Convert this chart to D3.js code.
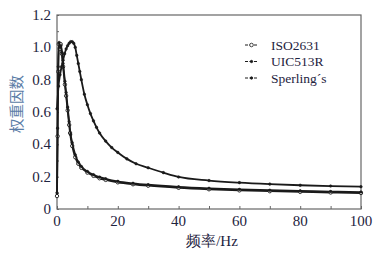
<!DOCTYPE html>
<html>
<head>
<meta charset="utf-8">
<script src="https://cdn.jsdelivr.net/npm/d3@7"></script>
<style>
  body { margin: 0; background: #fff; }
  svg text { font-family: "Liberation Serif", "DejaVu Serif", serif; }
</style>
</head>
<body>
<div id="chart-area"></div>
<script>
// data
var isoFreq = [0, 0.2, 0.4, 0.6, 0.9, 1.2, 1.6, 2, 2.6, 3, 3.5, 4, 4.3, 5, 6, 7, 8, 10, 12, 14, 16, 20, 25, 30, 40, 50, 60, 70, 80, 90, 100];
var isoVals = [0.08, 0.45, 0.85, 1.02, 0.99, 1.02, 0.96, 0.88, 0.77, 0.70, 0.61, 0.52, 0.47, 0.39, 0.32, 0.28, 0.255, 0.225, 0.205, 0.19, 0.18, 0.165, 0.153, 0.144, 0.131, 0.122, 0.115, 0.11, 0.106, 0.102, 0.099];

var uicFreq = [0, 0.2, 0.4, 0.7, 1.0, 1.3, 1.6, 2, 2.6, 3, 3.5, 4, 4.5, 5, 6, 7, 8, 10, 12, 14, 16, 20, 25, 30, 40, 50, 60, 70, 80, 90, 100];
var uicVals = [0.1, 0.5, 0.88, 1.03, 1.0, 1.01, 0.97, 0.9, 0.79, 0.72, 0.63, 0.54, 0.46, 0.41, 0.335, 0.29, 0.263, 0.232, 0.212, 0.197, 0.187, 0.171, 0.159, 0.15, 0.137, 0.128, 0.121, 0.116, 0.112, 0.108, 0.105];

var sperFreq = [0, 0.5, 1, 1.5, 2, 2.5, 3, 3.5, 4, 4.5, 5, 5.5, 6, 6.5, 7, 7.5, 8, 9, 10, 11, 12, 13, 14, 16, 18, 20, 23, 26, 30, 35, 40, 50, 60, 70, 80, 90, 100];
var sperVals = [0.62, 0.76, 0.83, 0.88, 0.92, 0.96, 0.99, 1.01, 1.025, 1.035, 1.035, 1.025, 1.0, 0.95, 0.9, 0.85, 0.8, 0.71, 0.645, 0.59, 0.545, 0.505, 0.47, 0.42, 0.38, 0.35, 0.31, 0.28, 0.255, 0.225, 0.198, 0.176, 0.163, 0.154, 0.147, 0.142, 0.138];

var xTicks = [0, 20, 40, 60, 80, 100];
var yTicks = [0, 0.2, 0.4, 0.6, 0.8, 1.0, 1.2];
var yTickLabels = ["0", "0.2", "0.4", "0.6", "0.8", "1.0", "1.2"];
var seriesNames = ["ISO2631", "UIC513R", "Sperling\u00b4s"];

var margin = { left: 57, right: 20, top: 15, bottom: 48 };
var width = 381 - margin.left - margin.right,
    height = 257 - margin.top - margin.bottom;

var svg = d3.select("#chart-area")
    .append("svg")
        .attr("width", 381)
        .attr("height", 257);

var g = svg.append("g")
    .attr("transform", "translate(" + margin.left + ", " + margin.top + ")");

var x = d3.scaleLinear().domain([0, 100]).range([0, width]);
var y = d3.scaleLinear().domain([0, 1.2]).range([height, 0]);

var frameColor = "#666";
var textColor = "#1e2340";

// frame
g.append("rect")
    .attr("width", width)
    .attr("height", height)
    .attr("fill", "none")
    .attr("stroke", frameColor)
    .attr("stroke-width", 1.2);

// X axis (ticks inside)
var xAxis = g.append("g")
    .attr("transform", "translate(0," + height + ")")
    .call(d3.axisBottom(x).tickValues(d3.range(0, 101, 10)).tickSize(-3).tickFormat(""));
xAxis.select(".domain").remove();
xAxis.selectAll("line").attr("stroke", frameColor);

g.selectAll(".xlab")
    .data(xTicks)
    .enter().append("text")
        .attr("class", "xlab")
        .attr("x", function(d){ return x(d); })
        .attr("y", height + 17)
        .attr("text-anchor", "middle")
        .attr("font-size", "15px")
        .attr("fill", textColor)
        .text(function(d){ return d; });

// Y axis (ticks inside)
var yAxis = g.append("g")
    .call(d3.axisLeft(y).tickValues(d3.range(0, 1.21, 0.1)).tickSize(-2).tickFormat(""));
yAxis.select(".domain").remove();
yAxis.selectAll("line").attr("stroke", frameColor);

g.selectAll(".ylab")
    .data(yTicks)
    .enter().append("text")
        .attr("class", "ylab")
        .attr("x", -6)
        .attr("y", function(d){ return y(d) + 5; })
        .attr("text-anchor", "end")
        .attr("font-size", "15px")
        .attr("fill", textColor)
        .text(function(d, i){ return yTickLabels[i]; });

// Labels
g.append("text")
    .attr("x", width / 2 + 3)
    .attr("y", height + 37)
    .attr("text-anchor", "middle")
    .attr("font-size", "15px")
    .attr("fill", textColor)
    .text("频率/Hz");

g.append("text")
    .attr("transform", "translate(-35," + (height / 2 - 8) + ") rotate(-90)")
    .attr("text-anchor", "middle")
    .attr("font-size", "14.5px")
    .attr("fill", "#5a7ca6")
    .style("font-family", "'Noto Sans CJK SC', sans-serif")
    .text("权重因数");

// curves
var line = d3.line()
    .x(function(d){ return x(d[0]); })
    .y(function(d){ return y(d[1]); })
    .curve(d3.curveMonotoneX);

var series = [
    { name: seriesNames[0], data: d3.zip(isoFreq, isoVals), marker: "circle" },
    { name: seriesNames[1], data: d3.zip(uicFreq, uicVals), marker: "dot" },
    { name: seriesNames[2], data: d3.zip(sperFreq, sperVals), marker: "dot" }
];

var curveColor = "#1a1a1a";

series.forEach(function(s){
    g.append("path")
        .datum(s.data)
        .attr("fill", "none")
        .attr("stroke", curveColor)
        .attr("stroke-width", 1.8)
        .attr("d", line);

    g.selectAll(null)
        .data(s.data)
        .enter().append("circle")
            .attr("cx", function(d){ return x(d[0]); })
            .attr("cy", function(d){ return y(d[1]); })
            .attr("r", s.marker == "circle" ? 1.7 : 1.3)
            .attr("fill", s.marker == "circle" ? "#fff" : curveColor)
            .attr("stroke", curveColor)
            .attr("stroke-width", s.marker == "circle" ? 0.9 : 0.5);
});

// legend
var legend = g.selectAll(".legend")
    .data(series)
    .enter().append("g")
        .attr("class", "legend")
        .attr("transform", function(d, i){ return "translate(188," + (30 + i * 16.5) + ")"; });

legend.append("line")
    .attr("x1", 0).attr("x2", 13)
    .attr("stroke", curveColor)
    .attr("stroke-width", 1)
    .attr("stroke-dasharray", "3,1.5");

legend.append("circle")
    .attr("cx", 6.5)
    .attr("r", function(d){ return d.marker == "circle" ? 1.8 : 1.2; })
    .attr("fill", function(d){ return d.marker == "circle" ? "#fff" : curveColor; })
    .attr("stroke", curveColor)
    .attr("stroke-width", 0.8);

legend.append("text")
    .attr("x", 26)
    .attr("y", 4.5)
    .attr("font-size", "13.5px")
    .attr("fill", textColor)
    .text(function(d){ return d.name; });
</script>
</body>
</html>
